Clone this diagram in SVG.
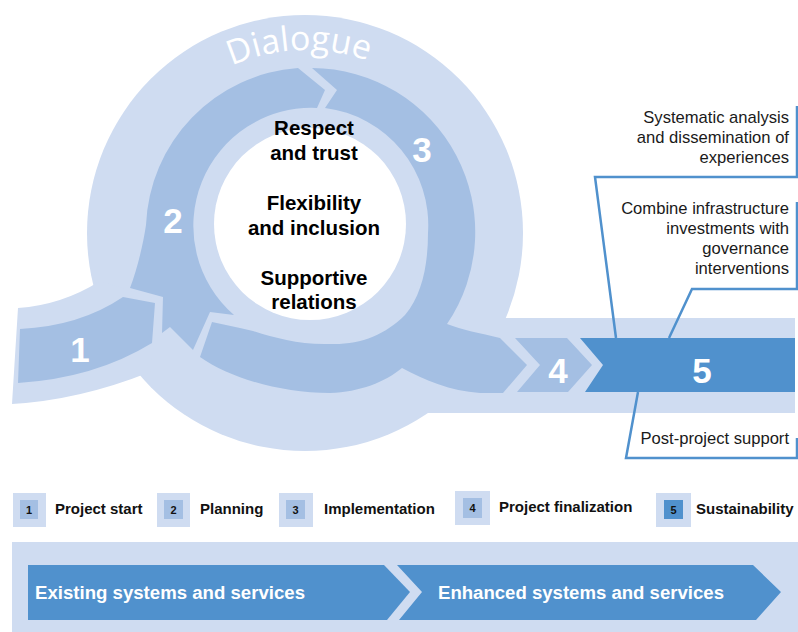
<svg xmlns="http://www.w3.org/2000/svg" width="798" height="632" viewBox="0 0 798 632">
<defs>
<style>
.light{fill:#cfdcf1}
.med{fill:#a4bfe3}
.dark{fill:#5091cd}
.num{font-family:'Liberation Sans',Arial,sans-serif;font-weight:bold;font-size:35px;fill:#fff;text-anchor:middle}
.core{font-family:'Liberation Sans',Arial,sans-serif;font-weight:bold;font-size:20.5px;fill:#000;text-anchor:middle}
.note{font-family:'Liberation Sans',Arial,sans-serif;font-size:16.6px;fill:#1a1a1a;text-anchor:end}
.leg{font-family:'Liberation Sans',Arial,sans-serif;font-weight:bold;font-size:15px;fill:#111}
.legn{font-family:'Liberation Sans',Arial,sans-serif;font-weight:bold;font-size:11px;fill:#111;text-anchor:middle}
.call{fill:none;stroke:#5091cd;stroke-width:2.5}
.atxt{font-family:'Liberation Sans',Arial,sans-serif;font-weight:bold;font-size:18px;fill:#fff}
.dlg{font-family:'Open Sans','Liberation Sans',sans-serif;font-size:34px;fill:#fff}
</style>
<path id="dlgPath" d="M124,232 A182,182 0 0 1 488,232"/>
</defs>

<g id="background">
  <circle class="light" cx="305" cy="233" r="218"/>
  <path class="light" d="M18,308 Q62,305 100,281 L160,300 L150,372 Q80,400 12,404 Z"/>
  <rect class="light" x="400" y="318" width="395" height="95"/>
  <circle cx="310" cy="224" r="96" fill="#fff"/>
  <text class="dlg"><textPath href="#dlgPath" startOffset="48.8%" text-anchor="middle">Dialogue</textPath></text>
</g>

<g id="step1">
  <path class="med" d="M20,329 Q80,326 123,297 L155,303 L152,343 Q95,378 18,383 Z"/>
  <text class="num" x="80" y="362">1</text>
</g>

<g id="step2">
  <path class="med" d="M298,68 L325,90 L317,108 A118,118 0 0 0 234,315 L210,312 L193,350 L170,327 L162,333 L163,297 L130,288 C137,270 143,245 146,225 A164,164 0 0 1 298,68 Z"/>
  <text class="num" x="173" y="233">2</text>
</g>

<g id="step3">
  <path class="med" d="M312,68 L337,90 L325,108 A118,118 0 0 1 428,233 C428,265 422,295 405,315 C385,335 360,345 330,344 C300,345 275,338 253,331 L240,328 L212,322 L200,357 C230,378 280,393 330,393 C360,392 385,382 402,368 C425,380 450,391 480,393 L503,393 L527,365 L500,338 C480,333 462,330 447,324 A164,164 0 0 0 312,68 Z"/>
  <text class="num" x="422" y="162">3</text>
</g>

<g id="step4">
  <path class="med" d="M515,338 L567,338 L592,365 L568,392 L517,392 L540,365 Z"/>
  <text class="num" x="558" y="383">4</text>
</g>

<g id="step5">
  <path class="dark" d="M580,338 L795,338 L795,392 L585,392 L603,365 Z"/>
  <text class="num" x="702" y="383">5</text>
</g>

<g id="core">
  <text class="core" x="314" y="135">Respect</text>
  <text class="core" x="314" y="160">and trust</text>
  <text class="core" x="314" y="210">Flexibility</text>
  <text class="core" x="314" y="235">and inclusion</text>
  <text class="core" x="314" y="285">Supportive</text>
  <text class="core" x="314" y="309">relations</text>
</g>

<g id="connectors">
  <polyline class="call" points="797,106 797,177 595,177 616,338"/>
  <polyline class="call" points="797,202 797,289 692,289 669,338"/>
  <polyline class="call" points="638,392 626,458 797,458 797,438"/>
</g>

<g id="note-analysis">
  <text class="note" x="789" y="123">Systematic analysis</text>
  <text class="note" x="789" y="143">and dissemination of</text>
  <text class="note" x="789" y="163">experiences</text>
</g>
<g id="note-combine">
  <text class="note" x="789" y="214">Combine infrastructure</text>
  <text class="note" x="789" y="234">investments with</text>
  <text class="note" x="789" y="254">governance</text>
  <text class="note" x="789" y="274">interventions</text>
</g>
<g id="note-post">
  <text class="note" x="789" y="444">Post-project support</text>
</g>

<g id="legend-1">
  <rect class="light" x="13" y="493" width="33" height="34"/>
  <rect class="med" x="20" y="500" width="18" height="19"/>
  <text class="legn" x="29" y="514">1</text>
  <text class="leg" x="55" y="514">Project start</text>
</g>
<g id="legend-2">
  <rect class="light" x="157" y="493" width="33" height="34"/>
  <rect class="med" x="164" y="500" width="19" height="19"/>
  <text class="legn" x="173.5" y="514">2</text>
  <text class="leg" x="200" y="514">Planning</text>
</g>
<g id="legend-3">
  <rect class="light" x="279" y="493" width="34" height="34"/>
  <rect class="med" x="286" y="500" width="19" height="19"/>
  <text class="legn" x="295.5" y="514">3</text>
  <text class="leg" x="324" y="514">Implementation</text>
</g>
<g id="legend-4">
  <rect class="light" x="455" y="491" width="35" height="34"/>
  <rect class="med" x="463" y="498" width="19" height="20"/>
  <text class="legn" x="472.5" y="512">4</text>
  <text class="leg" x="499" y="512">Project finalization</text>
</g>
<g id="legend-5">
  <rect class="light" x="656" y="493" width="35" height="34"/>
  <rect class="dark" x="664" y="500" width="19" height="19"/>
  <text class="legn" x="673.5" y="514">5</text>
  <text class="leg" x="696" y="514">Sustainability</text>
</g>

<g id="systems">
  <rect class="light" x="12" y="542" width="786" height="90"/>
  <g id="existing">
    <path class="dark" d="M28,565 L384,565 L410,592 L387,620 L28,620 Z"/>
    <text class="atxt" x="35" y="599" textLength="270" lengthAdjust="spacingAndGlyphs">Existing systems and services</text>
  </g>
  <g id="enhanced">
    <path class="dark" d="M397,565 L753,565 L781,592 L756,620 L399,620 L422,592 Z"/>
    <text class="atxt" x="438" y="599" textLength="286" lengthAdjust="spacingAndGlyphs">Enhanced systems and services</text>
  </g>
</g>
</svg>
